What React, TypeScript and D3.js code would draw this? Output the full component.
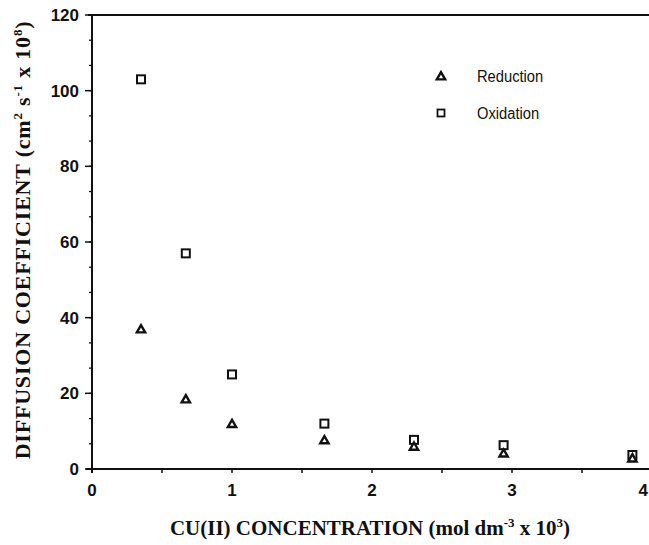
import React from "react";
import * as d3 from "d3";

const concentration = [0.35, 0.67, 1.0, 1.66, 2.3, 2.94, 3.86];
const reduction = [37, 18.5, 12, 7.7, 6, 4.2, 2.9];
const oxidation = [103, 57, 25, 12, 7.7, 6.3, 3.7];
const xTicks = [0, 1, 2, 3, 4];
const yTicks = [0, 20, 40, 60, 80, 100, 120];
const legendLabels = ["Reduction", "Oxidation"];

const W = 649;
const H = 545;
const left = 92;
const right = 652;
const top = 15;
const bottom = 469;

export default function App() {
  const x = d3.scaleLinear().domain([0, 4]).range([left, right]);
  const y = d3.scaleLinear().domain([0, 120]).range([bottom, top]);
  const xMinor = d3.range(0, 4.01, 0.5);
  const yMinor = d3.range(0, 120.01, 20 / 3);
  const tri = d3.symbol().type(d3.symbolTriangle).size(30)();
  const sansFont = "'Liberation Sans', Arial, sans-serif";
  const serifFont = "'Liberation Serif', 'Times New Roman', serif";
  return (
    <svg width={W} height={H} style={{ position: "absolute", left: 0, top: 0, background: "#fff" }}>
      <rect width={W} height={H} fill="#fff" />
      {/* frame */}
      <line x1={left - 4} x2={W} y1={top} y2={top} stroke="#111" strokeWidth={2} />
      <line x1={left} x2={left} y1={top} y2={bottom + 4} stroke="#111" strokeWidth={2} />
      <line x1={left - 6} x2={W} y1={bottom} y2={bottom} stroke="#111" strokeWidth={2} />
      {/* y ticks */}
      {yMinor.map((v, i) => (
        <line key={"ym" + i} x1={left - 3} x2={left + 1} y1={y(v)} y2={y(v)} stroke="#111" strokeWidth={1.3} />
      ))}
      {yTicks.map((v) => (
        <g key={"y" + v}>
          <line x1={left - 7} x2={left + 1} y1={y(v)} y2={y(v)} stroke="#111" strokeWidth={1.5} />
          <text x={left - 13} y={y(v)} dy="0.36em" textAnchor="end" fontFamily={sansFont} fontSize={17} fontWeight="bold" fill="#111">
            {v}
          </text>
        </g>
      ))}
      {/* x ticks */}
      {xMinor.map((v, i) => (
        <line key={"xm" + i} x1={x(v)} x2={x(v)} y1={bottom - 1} y2={bottom + 4} stroke="#111" strokeWidth={1.5} />
      ))}
      {xTicks.map((v) => (
        <text key={"x" + v} x={v === 4 ? W - 1 : x(v)} y={bottom + 27} textAnchor={v === 4 ? "end" : "middle"} fontFamily={sansFont} fontSize={17} fontWeight="bold" fill="#111">
          {v}
        </text>
      ))}
      {/* data */}
      {concentration.map((c, i) => (
        <rect key={"o" + i} x={x(c) - 4} y={y(oxidation[i]) - 4} width={8} height={8} fill="#fff" stroke="#111" strokeWidth={2} />
      ))}
      {concentration.map((c, i) => (
        <path key={"r" + i} d={tri} transform={`translate(${x(c)},${y(reduction[i]) + 1})`} fill="#fff" stroke="#111" strokeWidth={2.4} />
      ))}
      {/* legend */}
      <path d={tri} transform="translate(441,77)" fill="#fff" stroke="#111" strokeWidth={2.4} />
      <rect x={437.5} y={109.5} width={7} height={7} fill="#fff" stroke="#111" strokeWidth={1.8} />
      {legendLabels.map((l, i) => (
        <text key={l} x={477} y={76 + i * 37} dy="0.36em" fontFamily={sansFont} fontSize={16} fill="#111" transform={`translate(${477 * 0.08},0) scale(0.92,1)`}>
          {l}
        </text>
      ))}
      {/* axis titles */}
      <text x={370} y={535} textAnchor="middle" fontFamily={serifFont} fontSize={21} fontWeight="bold" fill="#111">
        CU(II) CONCENTRATION (mol dm
        <tspan dy={-8} fontSize={13}>-3</tspan>
        <tspan dy={8}> x 10</tspan>
        <tspan dy={-8} fontSize={13}>3</tspan>
        <tspan dy={8}>)</tspan>
      </text>
      <text transform="translate(30,240) rotate(-90)" textAnchor="middle" fontFamily={serifFont} fontSize={22} fontWeight="bold" letterSpacing={0.8} fill="#111">
        DIFFUSION COEFFICIENT (cm
        <tspan dy={-8} fontSize={13}>2</tspan>
        <tspan dy={8}> s</tspan>
        <tspan dy={-8} fontSize={13}>-1</tspan>
        <tspan dy={8}> x 10</tspan>
        <tspan dy={-8} fontSize={13}>8</tspan>
        <tspan dy={8}>)</tspan>
      </text>
    </svg>
  );
}
